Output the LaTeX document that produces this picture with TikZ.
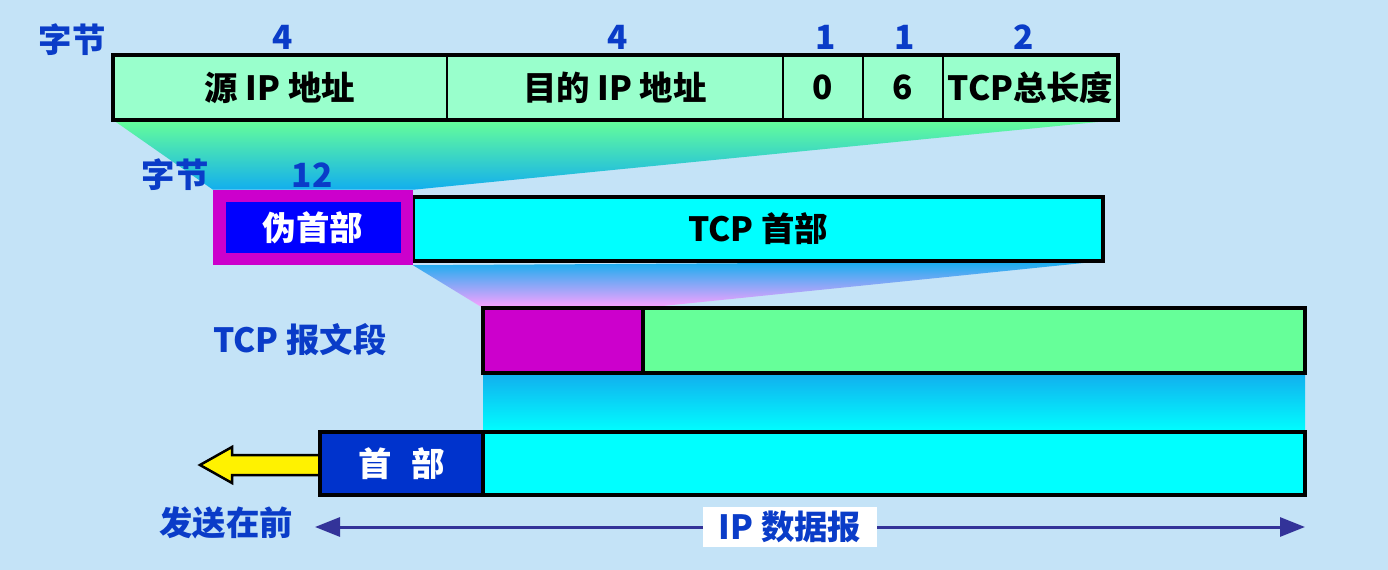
\documentclass[tikz,border=0pt]{standalone}
\usepackage{fontspec}
\setmainfont{Noto Sans CJK SC}
\usetikzlibrary{positioning,arrows.meta,backgrounds}
\newlength\upx \setlength\upx{0.02cm}
\definecolor{bgsky}{HTML}{C4E3F7}
\definecolor{mint}{HTML}{99FFCC}
\definecolor{sgreen}{HTML}{66FF99}
\definecolor{aqua}{HTML}{00FFFF}
\definecolor{pmag}{HTML}{CC00CC}
\definecolor{pblue}{HTML}{0000FF}
\definecolor{hblue}{HTML}{0033CC}
\definecolor{lblue}{HTML}{0A3CC8}
\definecolor{gblue}{HTML}{12AEEE}
\definecolor{gpink}{HTML}{FFA0FF}
\definecolor{spanc}{HTML}{333399}
\tikzset{
  txt/.style    = {font=\bfseries\fontsize{19}{23}\selectfont},
  fld/.style    = {rectangle, draw, line width=2\upx, fill=mint, minimum height=65\upx, inner sep=0, outer sep=0, txt},
  cell/.style   = {rectangle, draw, line width=4\upx, inner sep=0, outer sep=0, txt},
  pseudo/.style = {rectangle, draw=pmag, line width=12.5\upx, fill=pblue, text=white, minimum width=187.5\upx, minimum height=63\upx, inner sep=0, txt},
  lbl/.style    = {text=lblue, inner sep=0, txt},
  yarrow/.style = {draw, line width=2.5\upx, fill=yellow, line join=miter},
  ipspan/.style = {draw=spanc, line width=3\upx, {Triangle[length=0.5cm,width=0.38cm]}-{Triangle[length=0.5cm,width=0.38cm]}}
}

\begin{document}
\begin{tikzpicture}[x=0.02cm, y=-0.02cm]
  % top row: fields of the pseudo header
  \node[fld, minimum width=334\upx, anchor=north west] (src) at (113,55) {源 IP 地址};
  \node[fld, minimum width=336\upx, right=0pt of src] (dst) {目的 IP 地址};
  \node[fld, minimum width=80\upx, right=0pt of dst] (zero) {0};
  \node[fld, minimum width=80\upx, right=0pt of zero] (proto) {6};
  \node[fld, minimum width=175\upx, right=0pt of proto] (tlen) {TCP总长度};
  \draw[line width=4\upx] (src.north west) rectangle (tlen.south east);
  \node[lbl] (b0) at (72,40) {字节};
  \node[lbl] (n1) at (283,37) {4};  \node[lbl] (n2) at (618,37) {4};
  \node[lbl] (n3) at (826,37) {1};  \node[lbl] (n4) at (905,37) {1};
  \node[lbl] (n5) at (1024,37) {2};

  % pseudo header + TCP header
  \node[cell, fill=aqua, minimum width=690\upx, minimum height=64\upx, anchor=west] (tcph) at (413,229) {TCP 首部};
  \node[pseudo] (pse) at (313,227.5) {伪首部};
  \node[lbl] (b2) at (175,175) {字节};
  \node[lbl] (n6) at (312,175) {12};

  % TCP segment
  \node[cell, fill=pmag, minimum width=160\upx, minimum height=65\upx, anchor=north west] (segh) at (483,308) {};
  \node[cell, fill=sgreen, minimum width=662\upx, minimum height=65\upx, right=0pt of segh] (segd) {};
  \node[lbl] (seglab) at (300,340) {TCP 报文段};

  % IP datagram
  \node[cell, fill=aqua, minimum width=822\upx, minimum height=63\upx, anchor=north west] (ipd) at (483,432) {};
  \draw[yarrow] (322,455) -- (232,455) -- (232,447) -- (200,465) -- (232,483) -- (232,475) -- (322,475) -- cycle;
  \node[cell, fill=hblue, text=white, minimum width=163\upx, minimum height=63\upx, left=0pt of ipd] (iph) {首\hspace{.6em}部};
  \node[lbl] (first) at (226,523) {发送在前};
  \coordinate (dl) at (315,527);
  \coordinate (dr) at (1305,527);
  \draw[ipspan] (dl) -- (dr);
  \node[lbl, fill=white, minimum width=174\upx, minimum height=40\upx] (iplab) at (790,527) {IP 数据报};

  \begin{scope}[on background layer]
    \fill[bgsky] (0,0) rectangle (1388,570);
    \shade[top color=sgreen, bottom color=gblue] (src.south west) -- (tlen.south east) -- (pse.north east) -- (pse.north west) -- cycle;
    \shade[top color=gblue, bottom color=gpink] (pse.south east) -- (tcph.south east) -- (segh.north east) -- (segh.north west) -- cycle;
    \shade[top color=gblue, bottom color=aqua] (segh.south west) rectangle (ipd.north east);
  \end{scope}
\end{tikzpicture}
\end{document}
